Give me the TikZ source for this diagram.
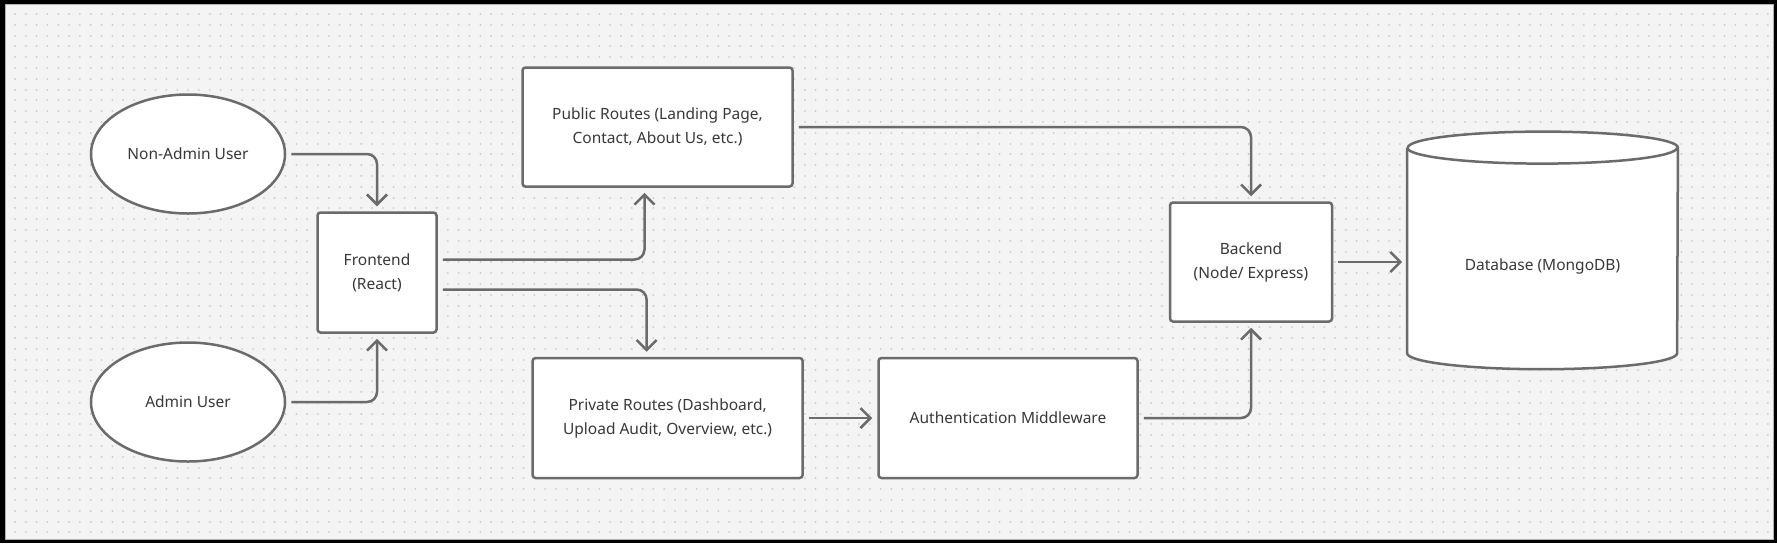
\documentclass[tikz,border=0pt]{standalone}
\usepackage{fontspec}
\setmainfont{Noto Sans}
\usetikzlibrary{arrows.meta,calc,shapes.geometric}

\newlength{\du}
\setlength{\du}{0.5pt}

\definecolor{dialinecolor}{rgb}{0.420000, 0.420000, 0.420000}
\definecolor{diatextcolor}{rgb}{0.220000, 0.220000, 0.220000}
\definecolor{diabgcolor}{rgb}{0.956000, 0.956000, 0.956000}
\definecolor{diadotcolor}{rgb}{0.800000, 0.800000, 0.800000}

\tikzset{
  diabox/.style={draw=dialinecolor, fill=white, line width=2.5\du, rounded corners=3\du,
    text=diatextcolor, align=center, font=\fontsize{7.75pt}{12pt}\selectfont, inner sep=0pt},
  diauser/.style={diabox, ellipse, rounded corners=0pt},
  dialink/.style={draw=dialinecolor, line width=2.5\du, rounded corners=10\du,
    shorten <=5\du, shorten >=5\du, -{Straight Barb[length=5pt,width=10pt]}},
  diadots/.style={draw=diadotcolor, line width=2\du, line cap=round,
    dash pattern=on 0.01pt off 5.4pt},
}

\begin{document}
\begin{tikzpicture}[x=\du,y=-\du]
\useasboundingbox (0,0) rectangle (1777,543);
% background
\fill[black] (0,0) rectangle (1777,543);
\fill[diabgcolor, draw=gray!60, line width=1\du] (5,4) rectangle (1773,539);
\foreach \j in {0,...,48}
  \draw[diadots] (15,14+10.8*\j) -- (1770,14+10.8*\j);

% users
\node[diauser, minimum width=194\du, minimum height=119\du] (nau) at (188,154) {Non-Admin User};
\node[diauser, minimum width=194\du, minimum height=119\du] (au) at (188,402) {Admin User};

% boxes
\node[diabox, minimum width=119\du, minimum height=120\du] (fe) at (377,272.5) {Frontend\\(React)};
\node[diabox, minimum width=270\du, minimum height=119\du] (pub) at (657.5,127) {Public Routes (Landing Page,\\Contact, About Us, etc.)};
\node[diabox, minimum width=270\du, minimum height=120\du] (prv) at (667.6,418) {Private Routes (Dashboard,\\Upload Audit, Overview, etc.)};
\node[diabox, minimum width=259\du, minimum height=120\du] (auth) at (1008,418) {Authentication Middleware};
\node[diabox, minimum width=162\du, minimum height=119\du] (be) at (1251,262) {Backend\\(Node/ Express)};

% database cylinder
\node[text=diatextcolor, font=\fontsize{7.75pt}{12pt}\selectfont, minimum width=270\du, minimum height=204.8\du, inner sep=0pt] (db) at (1542.5,266.4) {};
\filldraw[draw=dialinecolor, fill=white, line width=2.5\du]
  ($(db.north west)+(0,-16)$) -- ($(db.south west)+(0,-16)$)
  arc[start angle=180, end angle=360, x radius=67.5pt, y radius=8pt]
  -- ($(db.north east)+(0,-16)$)
  arc[start angle=0, end angle=180, x radius=67.5pt, y radius=8pt];
\draw[draw=dialinecolor, line width=2.5\du]
  ($(db.north west)+(0,-16)$) arc[start angle=180, end angle=360, x radius=67.5pt, y radius=8pt];
\node[text=diatextcolor, font=\fontsize{7.75pt}{12pt}\selectfont] at (db.center) {Database (MongoDB)};

% connectors
\draw[dialink] (nau.east) -| (fe.north);
\draw[dialink] (au.east) -| (fe.south);
\draw[dialink] ($(fe.east)+(0,-13)$) -| ($(pub.south)+(-13,0)$);
\draw[dialink] ($(fe.east)+(0,17)$) -| ($(prv.north)+(-21,0)$);
\draw[dialink] (prv.east) -- (auth.west);
\draw[dialink] (pub.east) -| (be.north);
\draw[dialink] (auth.east) -| (be.south);
\draw[dialink] (be.east) -- (be.east -| db.west);
\end{tikzpicture}
\end{document}
